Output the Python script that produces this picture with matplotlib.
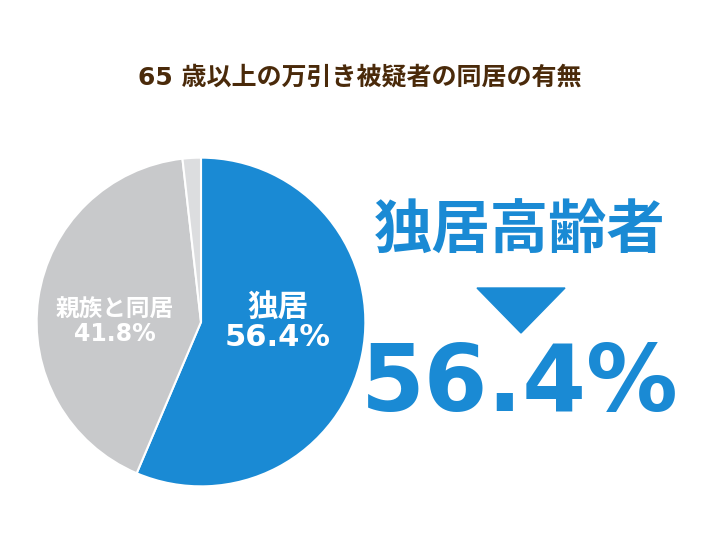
import matplotlib
matplotlib.use("Agg")
import matplotlib.pyplot as plt

plt.rcParams['font.family'] = ['DejaVu Sans', 'Noto Sans CJK JP']

labels = ["独居", "親族と同居", "不明"]
values = [56.4, 41.8, 1.8]
colors = ["#1a8ad4", "#c8c9cb", "#dcdddf"]
title = "65 歳以上の万引き被疑者の同居の有無"

W, H = 726, 545
fig = plt.figure(figsize=(W/100, H/100), dpi=100)
fig.patch.set_facecolor("white")
ax = fig.add_axes([35/W, 1-(322+166)/H, 332/W, 332/H])
ax.pie(values, colors=colors, startangle=90, counterclock=False,
       wedgeprops=dict(edgecolor="white", linewidth=1.5))
ax.set_xlim(-1.01, 1.01); ax.set_ylim(-1.01, 1.01)
ax.set_aspect("equal")

fig.text(360/W, 1-78/H, title, ha="center", va="center", fontsize=18,
         fontweight="bold", color="#4a2a0a")
fig.text(278/W, 1-322/H, f"{labels[0]}\n{values[0]}%", ha="center", va="center",
         fontsize=22, fontweight="bold", color="white", linespacing=1.05)
fig.text(115/W, 1-322/H, f"{labels[1]}\n{values[1]}%", ha="center", va="center",
         fontsize=17, fontweight="bold", color="white", linespacing=1.05)

fig.text(520/W, 1-232/H, "独居高齢者", ha="center", va="center", fontsize=42,
         fontweight="bold", color="#1a8ad4")
fig.patches.append(plt.Polygon([[477/W, 1-288/H], [565/W, 1-288/H], [521/W, 1-333/H]],
                               closed=True, transform=fig.transFigure,
                               color="#1a8ad4"))
fig.text(520/W, 1-385/H, f"{values[0]}%", ha="center", va="center", fontsize=66,
         fontweight="bold", color="#1a8ad4")

fig.savefig("out.png", dpi=100)
